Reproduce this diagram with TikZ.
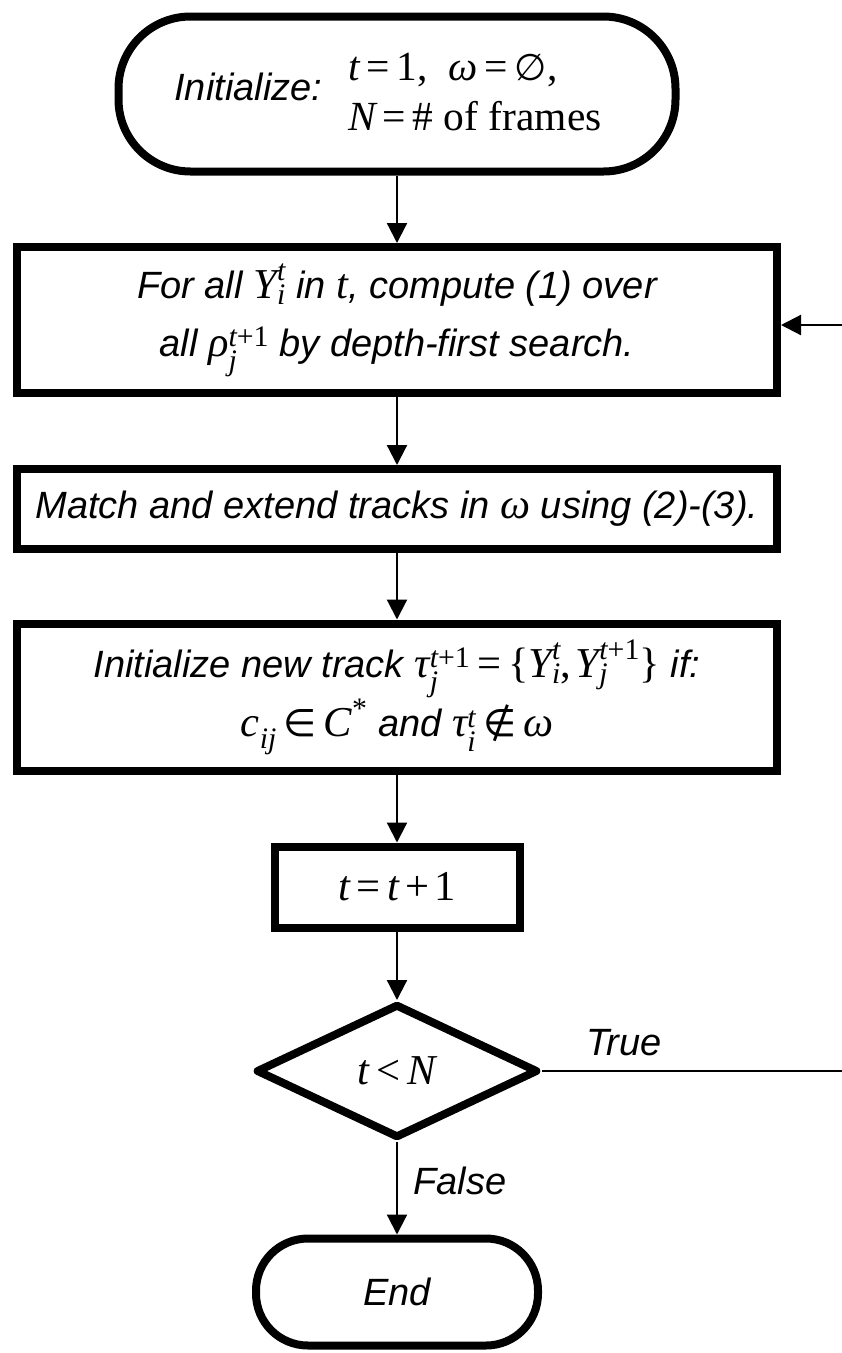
\documentclass[tikz,border=0pt]{standalone}
\usepackage{amsmath}
\usepackage{fontspec}
\setmainfont{Liberation Sans}
\newfontfamily\tmsf[Scale=1.12]{Liberation Serif}
\newfontfamily\dvsans{DejaVu Sans}
\usetikzlibrary{shapes.geometric,arrows.meta}
\newcommand\mi[1]{\text{\tmsf\itshape #1}}
\newcommand\mrm[1]{\text{\tmsf\upshape #1}}
\newcommand\mrel[1]{\mathrel{\text{\tmsf\upshape #1}}}
\newcommand\mbin[1]{\mathbin{\text{\tmsf\upshape #1}}}
\newcommand\drel[1]{\mathrel{\text{\dvsans\upshape #1}}}
\newcommand\dsym[1]{\text{\dvsans\upshape #1}}
\begin{document}
\begin{tikzpicture}[x=1pt,y=-1pt,
  box/.style={draw,line width=8pt,rectangle,inner sep=0pt,align=center,
    font=\fontsize{38}{58}\selectfont\itshape},
  term/.style={box,rounded corners=72pt},
  decision/.style={draw,line width=8pt,diamond,inner sep=0pt,line join=round,
    font=\fontsize{38}{58}\selectfont},
  arr/.style={line width=2.2pt,-{Triangle[length=20pt,width=20pt]}},
  lbl/.style={font=\fontsize{38}{46}\selectfont\itshape,inner sep=0pt}
]
\useasboundingbox (0,0) rectangle (842,1353);

\node[term,minimum width=557pt,minimum height=155pt] (start) at (397,94)
  {Initialize:\hspace{26pt}{\fontsize{37}{56}\selectfont\begin{tabular}[c]{@{}l@{}}
   $\mi{t}\mrel{=}\mrm{1}\mrm{,}\ \ \mi{ω}\mrel{=}\dsym{∅}\mrm{,}$\\[-6pt]
   $\mi{N}\mrel{=}\mrm{\#}$ {\tmsf\upshape of frames}\end{tabular}}\hspace{18pt}};

\node[box,minimum width=760pt,minimum height=146pt] (for) at (397,320)
  {For all $\mi{Y}_{\mi{i}}^{\mi{t}}$ in $\mi{t}$, compute (1) over\\
   all $\mi{ρ}_{\mi{j}}^{\mi{t}\mrm{+1}}$ by depth-first search.};

\node[box,minimum width=760pt,minimum height=80pt] (match) at (397,509)
  {Match and extend tracks in $\mi{ω}$ using (2)-(3).};

\node[box,minimum width=760pt,minimum height=147pt,
  font=\fontsize{38}{55}\selectfont\itshape] (init) at (397,697)
  {Initialize new track $\mi{τ}_{\mi{j}}^{\mi{t}\mrm{+1}}\mrel{=}\mrm{\{}\mi{Y}_{\mi{i}}^{\mi{t}}\mrm{,}\,\mi{Y}_{\mi{j}}^{\mi{t}\mrm{+1}}\mrm{\}}$ if:\\
   $\mi{c}_{\mi{ij}}\drel{∈}\mi{C}^{\mrm{*}}$ and $\mi{τ}_{\mi{i}}^{\mi{t}}\drel{∉}\mi{ω}$};

\node[box,minimum width=245pt,minimum height=81pt,
  font=\fontsize{38}{58}\selectfont] (inc) at (397,887)
  {$\mi{t}\mrel{=}\mi{t}\mbin{+}\mrm{1}$};

\node[decision,minimum width=282pt,minimum height=134pt,
  font=\fontsize{38}{58}\selectfont] (dec) at (397,1071)
  {$\mi{t}\mrel{<}\mi{N}$};

\node[term,rounded corners=52pt,minimum width=282pt,minimum height=107pt] (end) at (397,1292)
  {End};

\coordinate (r1) at (856,1071);
\coordinate (r2) at (856,325);

\draw[arr] (start.south) -- (for.north);
\draw[arr] (for.south) -- (match.north);
\draw[arr] (match.south) -- (init.north);
\draw[arr] (init.south) -- (inc.north);
\draw[arr] (inc.south) -- (dec.north);
\draw[arr] (dec.south) -- (end.north);
\draw[arr] (dec.east) -- (r1) -- (r2) -- (for.east |- r2);

\node[lbl] (ltrue) at (624,1043) {True};
\node[lbl] (lfalse) at (460,1181) {False};
\end{tikzpicture}
\end{document}
